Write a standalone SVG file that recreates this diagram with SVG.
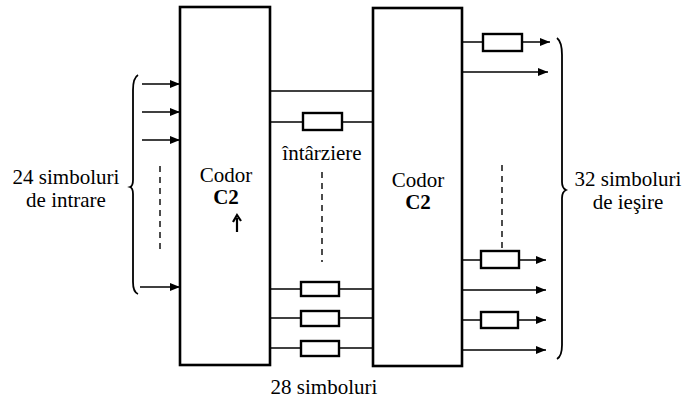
<svg xmlns="http://www.w3.org/2000/svg" width="684" height="404" viewBox="0 0 684 404">
<defs>
<style>
.blk{fill:#fff;stroke:#000;stroke-width:2.6}
.dly{fill:#fff;stroke:#000;stroke-width:2.4}
.ln{fill:none;stroke:#000;stroke-width:1.4}
.ds{fill:none;stroke:#000;stroke-width:1.4;stroke-dasharray:6 5}
.br{fill:none;stroke:#000;stroke-width:1.8}
.t{font-family:"Liberation Serif","Times New Roman",serif;font-size:21px;fill:#000}
.b{font-weight:bold}
</style>
<marker id="ah" viewBox="0 0 10 8" refX="10" refY="4" markerWidth="10" markerHeight="8" markerUnits="userSpaceOnUse" orient="auto">
<path d="M0,0 L10,4 L0,8 Z" fill="#000"/>
</marker>
</defs>
<rect width="684" height="404" fill="#fff"/>
<g id="connectors">
<line class="ln" x1="142" y1="84" x2="180" y2="84" marker-end="url(#ah)"/>
<line class="ln" x1="142" y1="112" x2="180" y2="112" marker-end="url(#ah)"/>
<line class="ln" x1="142" y1="140" x2="180" y2="140" marker-end="url(#ah)"/>
<line class="ln" x1="140" y1="287" x2="180" y2="287" marker-end="url(#ah)"/>
<line class="ds" x1="160" y1="166" x2="160" y2="253"/>
<line class="ln" x1="270" y1="91" x2="373" y2="91"/>
<line class="ln" x1="270" y1="122" x2="373" y2="122"/>
<line class="ln" x1="270" y1="289" x2="373" y2="289"/>
<line class="ln" x1="270" y1="318" x2="373" y2="318"/>
<line class="ln" x1="270" y1="348" x2="373" y2="348"/>
<line class="ds" x1="322" y1="172" x2="322" y2="262"/>
<line class="ln" x1="462" y1="42" x2="550" y2="42" marker-end="url(#ah)"/>
<line class="ln" x1="462" y1="72" x2="548" y2="72" marker-end="url(#ah)"/>
<line class="ln" x1="462" y1="260" x2="546" y2="260" marker-end="url(#ah)"/>
<line class="ln" x1="462" y1="290" x2="546" y2="290" marker-end="url(#ah)"/>
<line class="ln" x1="462" y1="320" x2="546" y2="320" marker-end="url(#ah)"/>
<line class="ln" x1="462" y1="350" x2="546" y2="350" marker-end="url(#ah)"/>
<line class="ds" x1="502" y1="165" x2="502" y2="250"/>
<path class="br" d="M138,75 Q133,78 133,90 L133,180 Q133,186 130,187 Q133,188 133,194 L133,282 Q133,292 138,294"/>
<path class="br" d="M557,38 Q562,42 562,55 L562,182 Q562,188 566,190 Q562,192 562,198 L562,345 Q562,356 557,359"/>
</g>
<g id="enc1">
<rect class="blk" x="180" y="7" width="90" height="358"/>
<text class="t" x="226" y="182" text-anchor="middle">Codor</text>
<text class="t b" x="226" y="204" text-anchor="middle">C2</text>
<path d="M237,232 L237,218 M233,222 L237,215 L241,221" fill="none" stroke="#000" stroke-width="2.2"/>
</g>
<g id="enc2">
<rect class="blk" x="373" y="8" width="89" height="358"/>
<text class="t" x="418" y="187" text-anchor="middle">Codor</text>
<text class="t b" x="418" y="209" text-anchor="middle">C2</text>
</g>
<g id="delays-mid">
<rect class="dly" x="303" y="113" width="39" height="17"/>
<rect class="dly" x="301" y="282" width="38" height="14"/>
<rect class="dly" x="301" y="311" width="38" height="15"/>
<rect class="dly" x="301" y="341" width="38" height="15"/>
</g>
<g id="delays-out">
<rect class="dly" x="483" y="34" width="39" height="17"/>
<rect class="dly" x="481" y="251" width="38" height="17"/>
<rect class="dly" x="481" y="312" width="37" height="16"/>
</g>
<g id="labels">
<text class="t" x="66" y="184" text-anchor="middle">24 simboluri</text>
<text class="t" x="66" y="207" text-anchor="middle">de intrare</text>
<text class="t" x="322" y="160" text-anchor="middle">întârziere</text>
<text class="t" x="628" y="186" text-anchor="middle">32 simboluri</text>
<text class="t" x="628" y="209" text-anchor="middle">de ieşire</text>
<text class="t" x="324" y="394" text-anchor="middle">28 simboluri</text>
</g>
</svg>
